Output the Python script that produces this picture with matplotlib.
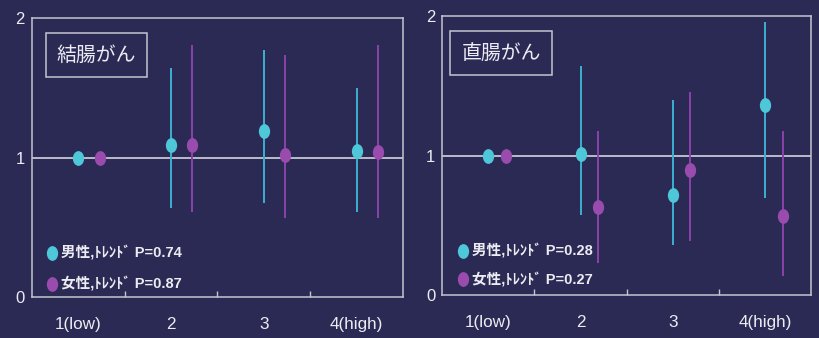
import numpy as np
import matplotlib
matplotlib.use("Agg")
import matplotlib.pyplot as plt
from matplotlib.path import Path
from matplotlib.lines import Line2D

# ---- data -------------------------------------------------------------
categories = ["1(low)", "2", "3", "4(high)"]

colon_title = "結腸がん"
colon_male = [1.00, 1.09, 1.19, 1.05]
colon_male_lo = [1.00, 0.64, 0.675, 0.61]
colon_male_hi = [1.00, 1.645, 1.77, 1.50]
colon_female = [1.00, 1.09, 1.02, 1.04]
colon_female_lo = [1.00, 0.61, 0.57, 0.57]
colon_female_hi = [1.00, 1.81, 1.74, 1.81]
colon_labels = ["男性,ﾄﾚﾝﾄﾞ P=0.74", "女性,ﾄﾚﾝﾄﾞ P=0.87"]

rectal_title = "直腸がん"
rectal_male = [1.00, 1.01, 0.72, 1.365]
rectal_male_lo = [1.00, 0.575, 0.356, 0.695]
rectal_male_hi = [1.00, 1.645, 1.40, 1.955]
rectal_female = [1.00, 0.63, 0.90, 0.57]
rectal_female_lo = [1.00, 0.23, 0.39, 0.14]
rectal_female_hi = [1.00, 1.18, 1.46, 1.18]
rectal_labels = ["男性,ﾄﾚﾝﾄﾞ P=0.28", "女性,ﾄﾚﾝﾄﾞ P=0.27"]

# ---- style ------------------------------------------------------------
BG = "#2b2a55"
SPINE = "#c4c4d0"
TEXT = "#ececf2"
MALE = "#4ec8d8"
MALE_LINE = "#3cb0d2"
FEMALE = "#9a4cae"
FEMALE_LINE = "#8a42aa"
LATIN_CJK = ["Liberation Sans", "Noto Sans CJK JP", "DejaVu Sans"]
CJK_FIRST = ["Noto Sans CJK JP", "DejaVu Sans"]

# upright ellipse marker (narrower than tall)
_circ = Path.unit_circle()
ELLIPSE = Path(_circ.vertices * np.array([0.74, 1.0]), _circ.codes)

fig = plt.figure(figsize=(8.19, 3.38), dpi=100, facecolor=BG)


def panel(rect, title, m, m_lo, m_hi, f, f_lo, f_hi, labels, f_off,
          title_x, leg_anchor, leg_spacing):
    ax = fig.add_axes(rect, facecolor=BG)
    x = np.arange(1, len(categories) + 1)

    ax.axhline(1.0, color="#d4d4dc", lw=1.2, zorder=1)

    for xs, v, lo, hi, c, lc in [
        (x, m, m_lo, m_hi, MALE, MALE_LINE),
        (x + f_off, f, f_lo, f_hi, FEMALE, FEMALE_LINE),
    ]:
        v = np.asarray(v)
        ax.vlines(xs, lo, hi, color=lc, lw=1.4, zorder=2)
        ax.plot(xs, v, ls="none", marker=ELLIPSE, ms=9.6, mfc=c, mec=c,
                zorder=3)

    ax.set_xlim(0.5, len(categories) + 0.5)
    ax.set_ylim(0, 2)
    ax.set_yticks([0, 1, 2])
    ax.set_yticklabels(["0", "1", "2"])
    ax.set_xticks(x)
    ax.set_xticklabels(categories)
    ax.set_xticks(x[:-1] + 0.5, minor=True)
    ax.tick_params(axis="x", which="major", length=0, pad=14.5,
                   labelsize=12.3, labelcolor=TEXT)
    ax.tick_params(axis="x", which="minor", direction="in", length=4,
                   color=SPINE, width=1)
    ax.tick_params(axis="y", length=0, pad=5, labelsize=12,
                   labelcolor=TEXT)
    for lab in ax.get_xticklabels() + ax.get_yticklabels():
        lab.set_fontfamily(LATIN_CJK)
    for s in ax.spines.values():
        s.set_color(SPINE)
        s.set_linewidth(1.1)

    ax.text(title_x, 0.868, title, transform=ax.transAxes,
            fontsize=14.3, color=TEXT, family=CJK_FIRST, va="center",
            ha="left",
            bbox=dict(boxstyle="square,pad=0.56", fc=BG, ec=SPINE, lw=1.1))

    handles = [
        Line2D([], [], ls="none", marker=ELLIPSE, ms=9.6, mfc=MALE, mec=MALE),
        Line2D([], [], ls="none", marker=ELLIPSE, ms=9.6, mfc=FEMALE,
               mec=FEMALE),
    ]
    leg = ax.legend(handles, labels, loc="lower left",
                    bbox_to_anchor=leg_anchor, frameon=False,
                    handlelength=0.6, handletextpad=0.3,
                    labelspacing=leg_spacing,
                    prop=dict(family=LATIN_CJK, weight="bold", size=10.5))
    for t in leg.get_texts():
        t.set_color(TEXT)
    return ax


panel([0.039, 0.121, 0.453, 0.825], colon_title,
      colon_male, colon_male_lo, colon_male_hi,
      colon_female, colon_female_lo, colon_female_hi,
      colon_labels, 0.23, 0.067, (0.008, -0.028), 1.1)
panel([0.540, 0.127, 0.4505, 0.825], rectal_title,
      rectal_male, rectal_male_lo, rectal_male_hi,
      rectal_female, rectal_female_lo, rectal_female_hi,
      rectal_labels, 0.19, 0.052, (0.01, -0.02), 0.95)

fig.savefig("out.png", dpi=100, facecolor=BG)
